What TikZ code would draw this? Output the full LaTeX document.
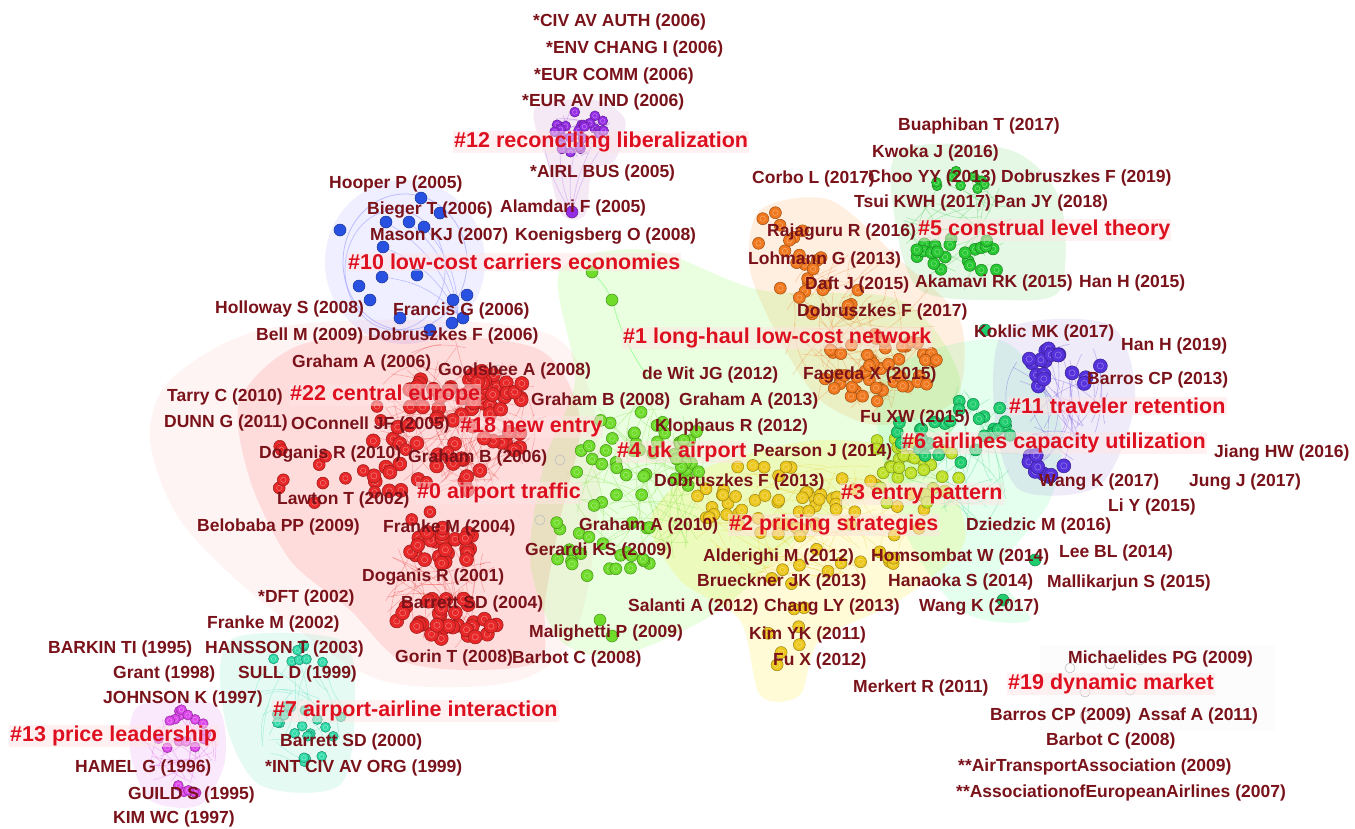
\documentclass[tikz,border=0pt]{standalone}
\usepackage{fontspec}
\setmainfont{Liberation Sans}
\definecolor{labc}{RGB}{122,18,26}
\definecolor{cluc}{RGB}{222,16,32}
\definecolor{cred}{RGB}{232,40,40}
\definecolor{cgreen}{RGB}{110,220,40}
\definecolor{cyellow}{RGB}{236,200,30}
\definecolor{cyg}{RGB}{190,225,40}
\definecolor{corange}{RGB}{240,120,30}
\definecolor{cgreenb}{RGB}{40,200,50}
\definecolor{cgreent}{RGB}{30,205,110}
\definecolor{cblue}{RGB}{40,80,225}
\definecolor{cviol}{RGB}{85,50,220}
\definecolor{cpurp}{RGB}{150,45,230}
\definecolor{cteal}{RGB}{50,220,170}
\definecolor{cmag}{RGB}{220,70,235}
\tikzset{
  au/.style={anchor=west,inner sep=0pt,text=labc,font=\fontsize{17.5}{18}\selectfont\bfseries},
  cl/.style={anchor=west,inner sep=1pt,text=cluc,font=\fontsize{21.5}{22}\selectfont\bfseries,
             fill=red!10,fill opacity=.5,text opacity=1},
  wash/.style={opacity=.14},
}
\newcommand\scat[7]{%
  \foreach \k in {1,...,#5}{%
    \pgfmathsetmacro\aa{360*rnd}%
    \pgfmathsetmacro\rr{sqrt(rnd)}%
    \pgfmathsetmacro\xx{#1+#3*\rr*cos(\aa)}%
    \pgfmathsetmacro\yy{#2+#4*\rr*sin(\aa)}%
    \fill[#6] (\xx,\yy) circle (#7pt);
    \draw[#6!65!black,line width=.5pt] (\xx,\yy) circle (#7pt);
    \draw[white,opacity=.45,line width=.4pt] (\xx,\yy) circle (#7pt*0.45);
  }}
\newcommand\lnk[6]{%
  \foreach \k in {1,...,#5}{%
    \pgfmathsetmacro\aa{360*rnd}%
    \pgfmathsetmacro\rr{sqrt(rnd)}%
    \pgfmathsetmacro\xa{#1+#3*\rr*cos(\aa)}%
    \pgfmathsetmacro\ya{#2+#4*\rr*sin(\aa)}%
    \pgfmathsetmacro\ab{360*rnd}%
    \pgfmathsetmacro\rb{sqrt(rnd)}%
    \pgfmathsetmacro\xb{#1+#3*\rb*cos(\ab)}%
    \pgfmathsetmacro\yb{#2+#4*\rb*sin(\ab)}%
    \draw[#6,opacity=.3,line width=.6pt] (\xa,\ya) to[bend left=18] (\xb,\yb);
  }}
\newcommand\onedot[3]{%
  \fill[#3] (#1,#2) circle (6pt);
  \draw[#3!65!black,line width=.5pt] (#1,#2) circle (6pt);}
\begin{document}
\begin{tikzpicture}[x=1pt,y=-1pt]
\pgfmathsetseed{4242}
\useasboundingbox (0,0) rectangle (1355,828);
\fill[white] (0,0) rectangle (1355,828);

% ---------- washes ----------
\fill[red!60,opacity=.07] plot[smooth cycle] coordinates {(170,380) (260,330) (420,320) (560,340) (600,450) (580,620) (520,680) (380,680) (260,600) (180,520) (150,440)};
\fill[red!70,wash] plot[smooth cycle] coordinates {(300,345) (420,335) (540,350) (580,420) (560,520) (545,600) (540,660) (470,670) (400,660) (350,610) (290,560) (250,480) (240,400)};
\fill[green!70!yellow,opacity=.12] plot[smooth cycle] coordinates {(560,270) (650,250) (760,290) (900,300) (960,380) (930,470) (820,520) (720,610) (620,655) (560,640) (530,560) (545,460) (575,380)};
\fill[yellow!90!orange,opacity=.16] plot[smooth cycle] coordinates {(700,470) (820,440) (930,460) (965,540) (900,600) (820,640) (800,695) (760,695) (740,620) (680,580) (650,520)};
\fill[orange,opacity=.12] plot[smooth cycle] coordinates {(760,210) (830,200) (900,260) (960,320) (955,400) (880,425) (820,400) (780,340) (750,270)};
\fill[green!70!black,opacity=.10] plot[smooth cycle] coordinates {(900,150) (1010,150) (1060,200) (1060,290) (1000,300) (920,290) (895,220)};
\fill[green!60!cyan,opacity=.10] plot[smooth cycle] coordinates {(880,380) (1000,340) (1060,420) (1050,500) (1000,570) (1030,620) (960,610) (900,520)};
\fill[blue!50!violet,opacity=.08] plot[smooth cycle] coordinates {(1005,330) (1110,325) (1135,400) (1100,485) (1020,490) (995,420)};
\fill[blue!60,opacity=.10] (405,262) ellipse (80pt and 82pt);
\fill[violet!70,opacity=.12] plot[smooth cycle] coordinates {(535,108) (595,100) (625,120) (615,160) (592,172) (585,215) (562,215) (548,165)};
\fill[cteal,opacity=.12] plot[smooth cycle] coordinates {(230,640) (340,640) (355,700) (340,785) (260,785) (225,720)};
\fill[cmag,opacity=.12] plot[smooth cycle] coordinates {(140,705) (215,705) (225,760) (200,805) (150,800) (130,750)};
\fill[gray,opacity=.025] (1040,645) rectangle (1275,730);

% ---------- links ----------
\lnk{460}{420}{90}{80}{70}{cred}
\lnk{440}{590}{60}{60}{35}{cred}
\lnk{640}{480}{80}{90}{60}{cgreen}
\lnk{800}{520}{110}{70}{60}{cyellow}
\lnk{860}{330}{80}{90}{50}{corange}
\lnk{960}{230}{60}{60}{25}{cgreenb}
\lnk{960}{450}{60}{80}{30}{cgreent}
\lnk{1060}{400}{55}{65}{30}{cviol}
\lnk{578}{132}{35}{25}{20}{cpurp}
\lnk{300}{710}{50}{60}{20}{cteal}
\lnk{180}{750}{40}{40}{25}{cmag}
\foreach \a in {545,560,575,590,600}{\draw[cpurp!50,opacity=.5,line width=.7pt] (\a,150) to[bend right=10] (572,213);}
\draw[blue!40,line width=.8pt,opacity=.6] (405,262) ellipse (62pt and 68pt);
\draw[blue!40,line width=.8pt,opacity=.5] (395,270) ellipse (50pt and 60pt);
\foreach \a/\b in {386/222,409/222,424/227,383/247,382/277}{\draw[blue!40,opacity=.6,line width=.6pt] (\a,\b) to[bend left=20] (458,315);}
\draw[green!60,opacity=.6,line width=.7pt] (592,272) to[bend left=10] (612,300) to[bend right=10] (650,380);
\foreach \a in {1030,1050,1070}{\draw[cviol!60,opacity=.5,line width=.6pt] (\a,360) to[bend left=25] (1040,465);}

% ---------- dots ----------
\scat{465}{395}{65}{25}{45}{cred}{7}
\scat{445}{440}{80}{22}{22}{cred}{7}
\scat{425}{478}{70}{18}{14}{cred}{7}
\scat{440}{545}{45}{20}{26}{cred}{7}
\scat{450}{620}{55}{22}{32}{cred}{7}
\scat{380}{460}{110}{70}{18}{cred}{6}
\scat{640}{455}{70}{45}{45}{cgreen}{6}
\scat{605}{540}{55}{40}{25}{cgreen}{6}
\scat{760}{500}{85}{35}{40}{cyellow}{6}
\scat{850}{525}{80}{55}{32}{cyellow}{6}
\scat{785}{620}{20}{60}{10}{cyellow}{6}
\scat{905}{470}{60}{35}{30}{cyg}{6}
\scat{880}{368}{60}{35}{50}{corange}{6}
\scat{820}{292}{45}{45}{20}{corange}{6}
\scat{780}{232}{25}{25}{8}{corange}{6}
\scat{960}{180}{35}{10}{10}{cgreenb}{5}
\scat{958}{258}{45}{25}{22}{cgreenb}{6}
\scat{955}{430}{60}{35}{30}{cgreent}{6}
\scat{1062}{368}{42}{22}{18}{cviol}{7}
\scat{1045}{465}{30}{12}{10}{cviol}{7}
\scat{578}{132}{30}{22}{26}{cpurp}{5}
\scat{295}{655}{35}{12}{8}{cteal}{5}
\scat{305}{722}{38}{22}{16}{cteal}{5}
\scat{312}{760}{20}{8}{5}{cteal}{5}
\scat{180}{730}{28}{22}{15}{cmag}{5}
\scat{185}{790}{18}{8}{5}{cmag}{5}
\foreach \p/\q in {421/198,440/213,386/222,409/222,424/227,383/247,382/277,417/275,359/286,453/300,467/295,452/323,463/318,340/230,370/300,400/318,430/330}{\onedot{\p}{\q}{cblue}}
\onedot{572}{212}{cpurp}
\onedot{592}{272}{cgreen}
\onedot{612}{300}{cgreen}
\onedot{600}{620}{cgreen}
\onedot{612}{636}{cgreen}
\onedot{1003}{600}{cgreent}
\onedot{1035}{560}{cgreent}
\onedot{985}{330}{cgreent}
\foreach \p/\q in {1070/668,1110/664,1140/660,1085/692,1130/690,1085/716,560/460,540/520,498/370}{\draw[gray!50,line width=.6pt] (\p,\q) circle (5pt);}

% ---------- author labels ----------
\node[au] (a1) at (533,22) {*CIV AV AUTH (2006)};
\node[au] (a2) at (546,49) {*ENV CHANG I (2006)};
\node[au] (a3) at (534,76) {*EUR COMM (2006)};
\node[au] (a4) at (522,102) {*EUR AV IND (2006)};
\node[au] (a5) at (530,173) {*AIRL BUS (2005)};
\node[au] (a6) at (329,184) {Hooper P (2005)};
\node[au] (a7) at (367,210) {Bieger T (2006)};
\node[au] (a8) at (500,208) {Alamdari F (2005)};
\node[au] (a9) at (370,236) {Mason KJ (2007)};
\node[au] (a10) at (515,236) {Koenigsberg O (2008)};
\node[au] (a11) at (215,309) {Holloway S (2008)};
\node[au] (a12) at (393,311) {Francis G (2006)};
\node[au] (a13) at (256,336) {Bell M (2009)};
\node[au] (a14) at (368,336) {Dobruszkes F (2006)};
\node[au] (a15) at (292,363) {Graham A (2006)};
\node[au] (a16) at (438,371) {Goolsbee A (2008)};
\node[au] (a17) at (167,397) {Tarry C (2010)};
\node[au] (a18) at (164,423) {DUNN G (2011)};
\node[au] (a19) at (291,425) {OConnell JF (2005)};
\node[au] (a20) at (259,454) {Doganis R (2010)};
\node[au] (a21) at (408,458) {Graham B (2006)};
\node[au] (a22) at (531,401) {Graham B (2008)};
\node[au] (a23) at (679,401) {Graham A (2013)};
\node[au] (a24) at (642,375) {de Wit JG (2012)};
\node[au] (a25) at (803,375) {Fageda X (2015)};
\node[au] (a26) at (655,427) {Klophaus R (2012)};
\node[au] (a27) at (753,452) {Pearson J (2014)};
\node[au] (a28) at (654,482) {Dobruszkes F (2013)};
\node[au] (a29) at (277,500) {Lawton T (2002)};
\node[au] (a30) at (197,527) {Belobaba PP (2009)};
\node[au] (a31) at (383,528) {Franke M (2004)};
\node[au] (a32) at (525,551) {Gerardi KS (2009)};
\node[au] (a33) at (579,526) {Graham A (2010)};
\node[au] (a34) at (703,557) {Alderighi M (2012)};
\node[au] (a35) at (871,557) {Homsombat W (2014)};
\node[au] (a36) at (697,582) {Brueckner JK (2013)};
\node[au] (a37) at (888,582) {Hanaoka S (2014)};
\node[au] (a38) at (628,607) {Salanti A (2012)};
\node[au] (a39) at (764,607) {Chang LY (2013)};
\node[au] (a40) at (919,607) {Wang K (2017)};
\node[au] (a41) at (529,633) {Malighetti P (2009)};
\node[au] (a42) at (512,659) {Barbot C (2008)};
\node[au] (a43) at (749,635) {Kim YK (2011)};
\node[au] (a44) at (773,661) {Fu X (2012)};
\node[au] (a45) at (853,688) {Merkert R (2011)};
\node[au] (a46) at (1068,659) {Michaelides PG (2009)};
\node[au] (a47) at (990,716) {Barros CP (2009)};
\node[au] (a48) at (1138,716) {Assaf A (2011)};
\node[au] (a49) at (1046,741) {Barbot C (2008)};
\node[au] (a50) at (958,767) {**AirTransportAssociation (2009)};
\node[au] (a51) at (956,793) {**AssociationofEuropeanAirlines (2007)};
\node[au] (a52) at (898,126) {Buaphiban T (2017)};
\node[au] (a53) at (872,153) {Kwoka J (2016)};
\node[au] (a54) at (752,179) {Corbo L (2017)};
\node[au] (a55) at (868,178) {Choo YY (2013)};
\node[au] (a56) at (1001,178) {Dobruszkes F (2019)};
\node[au] (a57) at (854,203) {Tsui KWH (2017)};
\node[au] (a58) at (994,203) {Pan JY (2018)};
\node[au] (a59) at (767,232) {Rajaguru R (2016)};
\node[au] (a60) at (748,260) {Lohmann G (2013)};
\node[au] (a61) at (805,285) {Daft J (2015)};
\node[au] (a62) at (915,283) {Akamavi RK (2015)};
\node[au] (a63) at (1079,283) {Han H (2015)};
\node[au] (a64) at (797,312) {Dobruszkes F (2017)};
\node[au] (a65) at (974,333) {Koklic MK (2017)};
\node[au] (a66) at (1121,346) {Han H (2019)};
\node[au] (a67) at (1087,380) {Barros CP (2013)};
\node[au] (a68) at (860,418) {Fu XW (2015)};
\node[au] (a69) at (1214,453) {Jiang HW (2016)};
\node[au] (a70) at (1039,482) {Wang K (2017)};
\node[au] (a71) at (1189,482) {Jung J (2017)};
\node[au] (a72) at (1108,507) {Li Y (2015)};
\node[au] (a73) at (966,526) {Dziedzic M (2016)};
\node[au] (a74) at (1059,553) {Lee BL (2014)};
\node[au] (a75) at (1047,583) {Mallikarjun S (2015)};
\node[au] (a76) at (258,598) {*DFT (2002)};
\node[au] (a77) at (207,624) {Franke M (2002)};
\node[au] (a78) at (48,649) {BARKIN TI (1995)};
\node[au] (a79) at (205,649) {HANSSON T (2003)};
\node[au] (a80) at (113,674) {Grant (1998)};
\node[au] (a81) at (238,674) {SULL D (1999)};
\node[au] (a82) at (103,699) {JOHNSON K (1997)};
\node[au] (a83) at (280,742) {Barrett SD (2000)};
\node[au] (a84) at (75,768) {HAMEL G (1996)};
\node[au] (a85) at (265,768) {*INT CIV AV ORG (1999)};
\node[au] (a86) at (128,795) {GUILD S (1995)};
\node[au] (a87) at (113,819) {KIM WC (1997)};
\node[au] (a88) at (362,577) {Doganis R (2001)};
\node[au] (a89) at (401,604) {Barrett SD (2004)};
\node[au] (a90) at (395,658) {Gorin T (2008)};

% ---------- cluster labels ----------
\node[cl] (c12) at (453,142) {\#12 reconciling liberalization};
\node[cl] (c10) at (347,262) {\#10 low-cost carriers economies};
\node[cl] (c5) at (917,230) {\#5 construal level theory};
\node[cl] (c1) at (622,338) {\#1 long-haul low-cost network};
\node[cl] (c22) at (289,395) {\#22 central europe};
\node[cl] (c18) at (459,427) {\#18 new entry};
\node[cl] (c11) at (1008,406) {\#11 traveler retention};
\node[cl] (c6) at (901,443) {\#6 airlines capacity utilization};
\node[cl] (c4) at (616,452) {\#4 uk airport};
\node[cl] (c0) at (416,493) {\#0 airport traffic};
\node[cl] (c3) at (840,494) {\#3 entry pattern};
\node[cl] (c2) at (728,525) {\#2 pricing strategies};
\node[cl] (c19) at (1007,684) {\#19 dynamic market};
\node[cl] (c7) at (272,711) {\#7 airport-airline interaction};
\node[cl] (c13) at (9,736) {\#13 price leadership};
\end{tikzpicture}
\end{document}
